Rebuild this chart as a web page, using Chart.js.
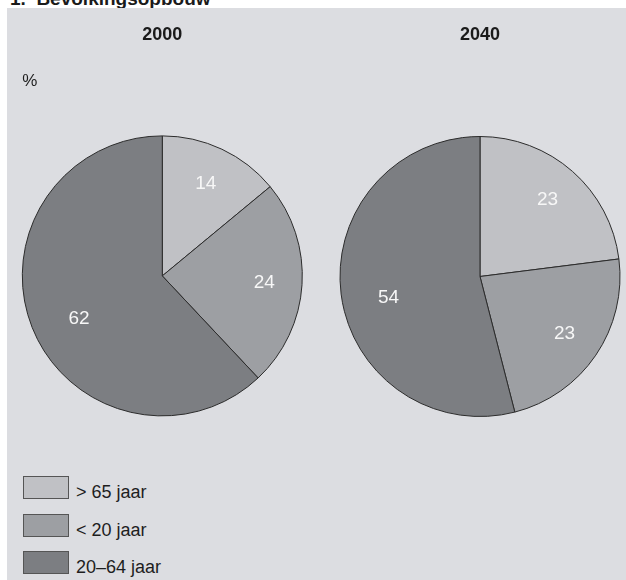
<!DOCTYPE html>
<html>
<head>
<meta charset="utf-8">
<script src="https://cdn.jsdelivr.net/npm/chart.js@4/dist/chart.umd.min.js"></script>
<style>
  html, body { margin: 0; padding: 0; background: #fff; }
  body { position: relative; width: 626px; height: 580px; overflow: hidden;
         font-family: 'Liberation Sans', Arial, sans-serif; }
  #heading { position: absolute; left: 10px; top: -11px; font-size: 19px; line-height: 19px;
             font-weight: bold; color: #1a1a1a; white-space: pre; }
  #panel { position: absolute; left: 7px; top: 8px; right: 0; bottom: 0; background: #dcdde1; }
  #c2000 { position: absolute; left: 0; top: 0; }
  #c2040 { position: absolute; left: 320px; top: 0; }
  #legend { position: absolute; left: 23px; top: 476px; }
  .item { position: relative; height: 37.5px; }
  .box { position: absolute; left: 0; top: 0; width: 44px; height: 21px; border: 1px solid #555; }
  .lbl { position: absolute; left: 53px; top: 5px; font-size: 18px; line-height: 22px; color: #1e1e1e; white-space: nowrap; }
</style>
</head>
<body>
<div id="heading">1.  Bevolkingsopbouw</div>
<div id="panel"></div>
<canvas id="c2000" width="320" height="460"></canvas>
<canvas id="c2040" width="306" height="460"></canvas>
<div id="legend"></div>
<script>
const categories = ['> 65 jaar', '< 20 jaar', '20–64 jaar']
const years = ['2000', '2040']
const values2000 = [14, 24, 62]
const values2040 = [23, 23, 54]
const unitLabel = '%'

const sliceColors = ['#c0c1c5', '#9d9fa3', '#7c7e82']

Chart.defaults.font.family = "'Liberation Sans', Arial, sans-serif"
Chart.defaults.color = '#1e1e1e'

// value labels inside the slices
const sliceLabels = {
  id: 'sliceLabels',
  afterDatasetsDraw(chart) {
    const ctx = chart.ctx
    const meta = chart.getDatasetMeta(0)
    const data = chart.data.datasets[0].data
    ctx.save()
    ctx.fillStyle = '#f7f7f7'
    ctx.font = "19px 'Liberation Sans', Arial, sans-serif"
    ctx.textAlign = 'center'
    ctx.textBaseline = 'middle'
    meta.data.forEach((arc, i) => {
      const p = arc.getProps(['x', 'y', 'startAngle', 'endAngle', 'outerRadius'], true)
      const big = data[i] > 50
      const mid = (p.startAngle + p.endAngle) / 2 - (big ? 0.1 : 0)
      const r = p.outerRadius * (big ? 0.67 : 0.73)
      ctx.fillText(String(data[i]), p.x + Math.cos(mid) * r, p.y + Math.sin(mid) * r)
    })
    ctx.restore()
  }
}

function makePie(canvasId, year, values, withUnit, pad) {
  const canvas = document.getElementById(canvasId)
  return new Chart(canvas, {
    type: 'pie',
    data: {
      labels: categories,
      datasets: [{
        data: values,
        backgroundColor: sliceColors,
        borderColor: '#2b2b2b',
        borderWidth: 1,
        hoverOffset: 0,
        radius: 140,
      }]
    },
    options: {
      responsive: false,
      animation: false,
      layout: { padding: pad },
      plugins: {
        legend: { display: false },
        tooltip: { enabled: false },
        title: {
          display: true,
          text: year,
          color: '#1a1a1a',
          font: { size: 18, weight: 'bold' },
          padding: { top: 24, bottom: withUnit ? 0 : 90.9 },
        },
        subtitle: {
          display: withUnit,
          text: unitLabel,
          align: 'start',
          color: '#1e1e1e',
          font: { size: 17 },
          padding: { top: 25.6, bottom: 43.7 },
        }
      }
    },
    plugins: [sliceLabels]
  })
}

const chart2000 = makePie('c2000', years[0], values2000, true, { left: 22.3, right: 17.7, top: 0, bottom: 43.5 })
makePie('c2040', years[1], values2040, false, { left: 20, right: 6, top: 0, bottom: 43.5 })

// legend built from the chart's own legend items
const legendEl = document.getElementById('legend')
chart2000.options.plugins.legend.labels.generateLabels(chart2000).forEach(it => {
  const row = document.createElement('div')
  row.className = 'item'
  const box = document.createElement('div')
  box.className = 'box'
  box.style.background = it.fillStyle
  const lbl = document.createElement('div')
  lbl.className = 'lbl'
  lbl.textContent = it.text
  row.appendChild(box)
  row.appendChild(lbl)
  legendEl.appendChild(row)
})
</script>
</body>
</html>
